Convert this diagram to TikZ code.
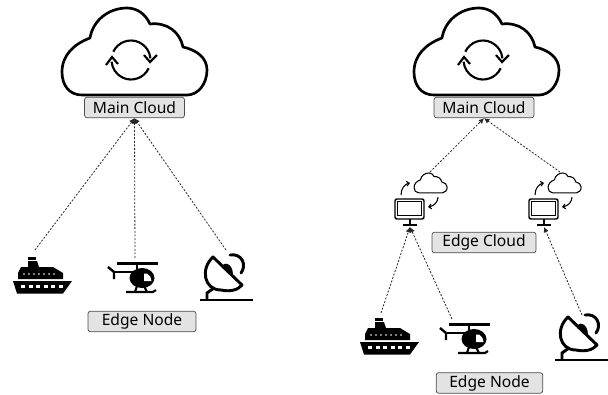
\documentclass[tikz,border=0pt]{standalone}
\usepackage{fontspec}
\setmainfont{Noto Sans}
\usetikzlibrary{arrows.meta}
\tikzset{
  label box/.style={draw=black!70,fill=black!11,rounded corners=2pt,line width=0.55pt,minimum width=75pt,minimum height=15.5pt,inner sep=0pt,font=\fontsize{11.7}{13}\selectfont},
  link/.style={dash pattern=on 1.5pt off 1.2pt,line width=0.6pt,black!85,-{Latex[length=4pt,width=4pt]}},
  turn/.style={line width=0.8pt,-{Straight Barb[length=2pt,width=3.6pt]}},
  pics/cloudshape/.style={code={
    \draw[line join=round] (-52,43) .. controls (-65,43) and (-72,33) .. (-72,20)
      .. controls (-72,3) and (-60,-8) .. (-44,-14)
      .. controls (-41,-32) and (-25,-44) .. (-7,-44)
      .. controls (4,-44) and (12,-37) .. (16,-28)
      .. controls (33,-30) and (46,-20) .. (49,-5)
      .. controls (63,-2) and (73,6) .. (73,18)
      .. controls (73,32) and (64,43) .. (53,43) -- cycle;
  }},
  pics/bigcloud/.style={code={
    \pic[line width=2pt] {cloudshape};
    \draw[line width=1.6pt] (-3,8) ++(-155:19.5) arc (-155:-5:19.5);
    \draw[line width=1.6pt] (-3,8) ++(25:19.5) arc (25:175:19.5);
    \draw[line width=1.6pt] (10,3) -- (16,10) -- (23,3);
    \draw[line width=1.6pt] (-28,13) -- (-22,5) -- (-16,12);
  }},
  pics/shipicon/.style={code={
    \fill (15,0) rectangle (23,2.5);
    \fill (0,24) -- (59,24) -- (50,36.5) -- (4,36.5) -- cycle;
    \fill (5,22) -- (50,22) -- (50,16) -- (40,10) -- (26,10) -- (24,4) -- (15,4) -- (15,10) -- (8,10) -- (5,16) -- cycle;
    \foreach \i in {0,...,6} \fill[white] (11+5*\i,17) circle (0.9);
    \foreach \i in {0,...,5} \fill[white] (8+7.6*\i,27.5) rectangle ++(4,3.5);
  }},
  pics/helicon/.style={code={
    \draw[line width=1.8pt] (10,2.5) -- (51,2.5);
    \draw[line width=1.8pt] (30,2.5) -- (30,8);
    \fill (35,17) ellipse (12.5 and 10);
    \fill[white] (37,12.5) -- (40,12.5) .. controls (43,14) and (44.5,17) .. (44.5,20) -- (37,20) -- cycle;
    \draw[line width=1.8pt] (1,6) -- (7,11) -- (7,18);
    \draw[line width=1.8pt] (7,11) -- (26,11);
    \draw[line width=1.6pt] (19,31) -- (46,31) -- (49,29);
    \draw[line width=1.6pt] (30,25) -- (28,31);
    \draw[line width=1.6pt] (37,25) -- (40,31);
  }},
  pics/dishicon/.style={code={
    \draw[line width=2.2pt] (0,47) -- (53,47);
    \draw[line width=2.2pt] (7,47) -- (7,40) -- (14,35);
    \draw[line width=2.2pt,line join=round] (13,4) .. controls (0,16) and (4,37) .. (21,37) .. controls (30,39) and (38,37) .. (42,32) -- cycle;
    \fill (22,15) .. controls (22,8) and (33,9) .. (33,22) -- cycle;
    \draw[line width=2.2pt,line cap=round] (30,2) .. controls (42,0) and (47,12) .. (41,20);
  }},
  pics/edgecloud/.style={code={
    \pic[line width=0.8pt,scale=0.228] at (35.5,-16) {cloudshape};
    \draw[line width=1.1pt,rounded corners=1.5pt] (0,0) rectangle (29,20);
    \draw[line width=0.6pt] (2.5,2.5) rectangle (26.5,16.5);
    \draw[line width=0.9pt] (15,20) -- (15,26);
    \draw[line width=0.9pt] (8,26) -- (22,26);
    \draw[turn] (6,-4) .. controls (6,-11) and (10,-15) .. (15,-16);
    \draw[turn] (43,-2) .. controls (43,3) and (39,7) .. (33,8);
  }}
}
\begin{document}
\begin{tikzpicture}[x=0.75pt,y=-0.75pt]
  \useasboundingbox (0,0) rectangle (608,394);
  \pic (cloudA) at (134,52) {bigcloud};
  \pic (cloudB) at (486,52) {bigcloud};
  \node[label box] (mainA) at (134.5,107.5) {Main Cloud};
  \node[label box] (mainB) at (484,107.5) {Main Cloud};
  \node[label box,minimum width=81pt] (nodeA) at (142,321.5) {Edge Node};
  \node[label box,minimum width=80pt] (nodeB) at (489.5,383) {Edge Node};
  \node[label box,minimum width=78pt] (edgeC) at (484,242.5) {Edge Cloud};
  \pic (shipA) at (13,257) {shipicon};
  \pic (heliA) at (107,261) {helicon};
  \pic (dishA) at (200,253) {dishicon};
  \pic (shipB) at (360,318) {shipicon};
  \pic (heliB) at (439,322) {helicon};
  \pic (dishB) at (555,313) {dishicon};
  \pic (edgeA) at (395,199) {edgecloud};
  \pic (edgeD) at (529,199) {edgecloud};
  \coordinate (shipA_up) at (35,250);
  \coordinate (heliA_up) at (135,258);
  \coordinate (dishA_up) at (226,250);
  \coordinate (shipB_up) at (381,313);
  \coordinate (heliB_up) at (452,319);
  \coordinate (dishB_up) at (582,315);
  \coordinate (edgeA_up) at (430,172);
  \coordinate (edgeD_up) at (560,172);
  \coordinate (edgeA_dn) at (410,227);
  \coordinate (edgeD_dn) at (544,227);
  \path (shipA_up) edge [link] (mainA.south);
  \path (heliA_up) edge [link] (mainA.south);
  \path (dishA_up) edge [link] (mainA.south);
  \path (edgeA_up) edge [link] (mainB.south);
  \path (edgeD_up) edge [link] (mainB.south);
  \path (shipB_up) edge [link] (edgeA_dn);
  \path (heliB_up) edge [link] (edgeA_dn);
  \path (dishB_up) edge [link] (edgeD_dn);
\end{tikzpicture}
\end{document}
